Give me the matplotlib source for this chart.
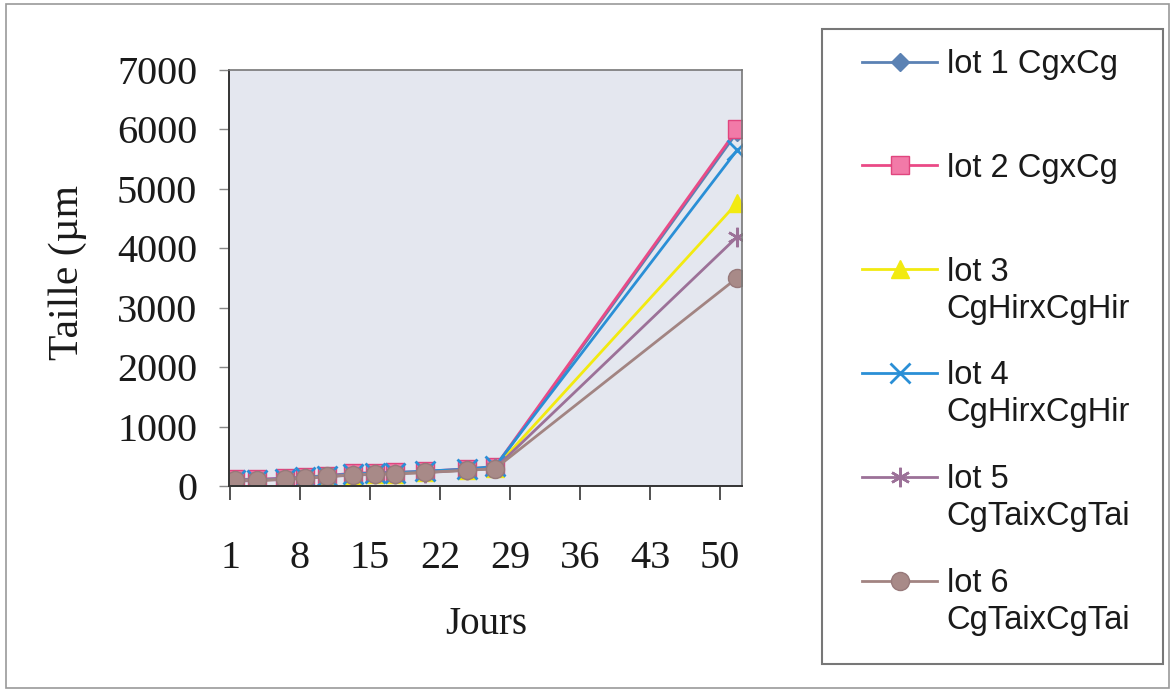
import matplotlib
matplotlib.use("Agg")
import matplotlib.pyplot as plt
from matplotlib.patches import Rectangle

# ---- data ----
days = [1.5, 3.7, 6.5, 8.5, 10.7, 13.3, 15.5, 17.5, 20.5, 24.7, 27.5, 51.7]
lot1 = [95, 100, 120, 140, 165, 195, 205, 215, 240, 275, 305, 5950]
lot2 = [110, 115, 130, 150, 175, 215, 225, 230, 245, 290, 320, 6000]
lot3 = [90, 95, 115, 135, 160, 190, 200, 210, 230, 270, 300, 4760]
lot4 = [100, 105, 125, 145, 170, 205, 215, 225, 250, 285, 330, 5650]
lot5 = [85, 90, 110, 130, 155, 185, 195, 205, 225, 265, 295, 4190]
lot6 = [95, 100, 115, 135, 160, 190, 200, 210, 230, 265, 290, 3500]
series = [lot1, lot2, lot3, lot4, lot5, lot6]
first_lines = ["lot 1 CgxCg", "lot 2 CgxCg", "lot 3", "lot 4", "lot 5", "lot 6"]
second_lines = ["", "", "CgHirxCgHir", "CgHirxCgHir", "CgTaixCgTai", "CgTaixCgTai"]
xticks = [1, 8, 15, 22, 29, 36, 43, 50]
yticks = [0, 1000, 2000, 3000, 4000, 5000, 6000, 7000]

# ---- styles ----
styles = [
    dict(color="#5b82b4", marker="D", mfc="#5b82b4", mec="#5b82b4", ms=9),
    dict(color="#ea4a86", marker="s", mfc="#f27aa8", mec="#e0457e", ms=13),
    dict(color="#f2ea10", marker="^", mfc="#f2ea10", mec="#f2ea10", ms=13),
    dict(color="#2a8fd6", marker="x", mfc="#2a8fd6", mec="#2a8fd6", ms=14, mew=2),
    dict(color="#9c7198", marker=(6, 2, 0), mfc="#9c7198", mec="#9c7198", ms=14, mew=1.8),
    dict(color="#a28482", marker="o", mfc="#a88a88", mec="#97797a", ms=13),
]

W, H = 1171, 691
fig = plt.figure(figsize=(W / 100, H / 100), dpi=100)
fig.patch.set_facecolor("white")
ax = fig.add_axes([229 / W, 1 - 486 / H, (742 - 229) / W, (486 - 70) / H])
ax.set_facecolor("#e4e7ef")

handles = []
for vals, st, lab in zip(series, styles, first_lines):
    h, = ax.plot(days, vals, lw=2, label=lab, **st)
    handles.append(h)

ax.set_xlim(0.9, 52.2)
ax.set_ylim(0, 7000)
ax.set_xticks(xticks)
ax.set_yticks(yticks)
serif = "Liberation Serif"
ax.tick_params(axis="y", direction="out", length=7, width=1, color="#888888",
               pad=16, labelsize=29, labelfontfamily=serif, labelcolor="#1a1a1a")
ax.tick_params(axis="x", direction="out", length=10, width=1.2, color="#333333",
               pad=29, labelsize=29, labelfontfamily=serif, labelcolor="#1a1a1a")
for side in ["left", "bottom"]:
    ax.spines[side].set_color("#333333")
    ax.spines[side].set_linewidth(1.4)
for side in ["top", "right"]:
    ax.spines[side].set_color("#777777")
    ax.spines[side].set_linewidth(1.2)

fig.text(68 / W, 1 - 273 / H, "Taille (µm", rotation=90, ha="center", va="center",
         fontsize=30, family=serif, color="#1a1a1a")
fig.text(486 / W, 1 - 625 / H, "Jours", ha="center", va="center",
         fontsize=28, family=serif, color="#1a1a1a")

# legend
sans = "Liberation Sans"
leg = fig.legend(handles=handles, labels=first_lines, loc="upper left",
                 bbox_to_anchor=(862 / W, 1 - 49 / H), frameon=False,
                 borderpad=0, borderaxespad=0, handlelength=2.3, handletextpad=0.3,
                 labelspacing=2.23, prop=dict(family=sans, size=23.5))
for t in leg.get_texts():
    t.set_color("#1a1a1a")

fig.canvas.draw()
inv = fig.transFigure.inverted()
for t, s in zip(leg.get_texts(), second_lines):
    if s:
        bb = t.get_window_extent()
        x0, y0 = inv.transform((bb.x0, bb.y0 - 37))
        fig.text(x0, y0, s, ha="left", va="bottom", fontsize=23.5,
                 family=sans, color="#1a1a1a")

# frames
fig.patches.append(Rectangle((822 / W, 1 - 664 / H), (1163 - 822) / W, (664 - 29) / H,
                             transform=fig.transFigure, fill=False, ec="#777777", lw=1.5))
fig.patches.append(Rectangle((6 / W, 1 - 688 / H), (1169 - 6) / W, (688 - 4) / H,
                             transform=fig.transFigure, fill=False, ec="#999999", lw=1.2))

fig.savefig("out.png", dpi=100)
